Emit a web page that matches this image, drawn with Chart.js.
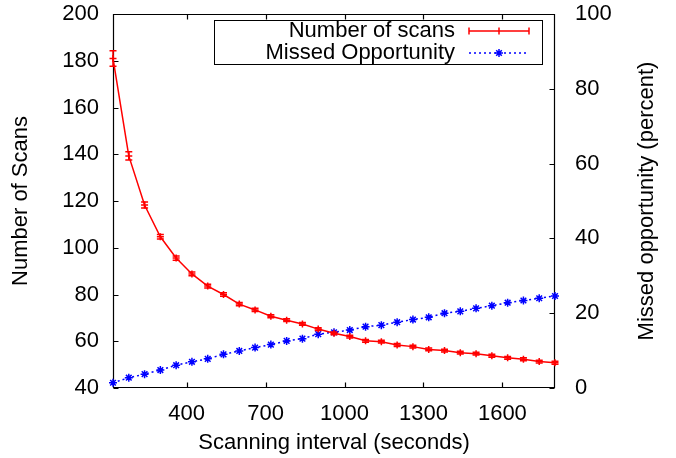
<!DOCTYPE html>
<html>
<head>
<meta charset="utf-8">
<script src="https://cdn.jsdelivr.net/npm/chart.js@4.4.1/dist/chart.umd.min.js"></script>
<style>
html,body{margin:0;padding:0;background:#fff;}
#wrap{width:676px;height:458px;}
</style>
</head>
<body>
<div id="wrap"><canvas id="c" width="676" height="458"></canvas></div>
<script>
// ---- data ----
const scanIntervals = [120,180,240,300,360,420,480,540,600,660,720,780,840,900,960,1020,1080,1140,1200,1260,1320,1380,1440,1500,1560,1620,1680,1740,1800];
const numberOfScans = [181,139.3,118.3,104.7,95.6,88.8,83.6,80.0,75.9,73.4,70.7,69.0,67.4,65.2,63.4,62.0,60.2,59.8,58.4,57.7,56.5,56.0,55.1,54.7,53.8,52.9,52.3,51.3,50.8];
const scanErrors = [3.3,1.8,1.3,1.0,0.9,0.8,0.8,0.7,0.7,0.7,0.6,0.6,0.6,0.6,0.6,0.6,0.6,0.6,0.6,0.6,0.6,0.6,0.6,0.6,0.6,0.6,0.6,0.6,0.6];
const missedOpportunity = [1.4,2.75,3.7,4.8,6.1,7.0,7.8,9.0,9.9,10.8,11.6,12.6,13.2,14.4,14.9,15.5,16.4,16.8,17.6,18.3,18.9,20.0,20.5,21.3,22.0,22.8,23.4,24.0,24.6];
const xTickValues = [400,700,1000,1300,1600];
const seriesLabels = ['Number of scans','Missed Opportunity'];
const xTitle = 'Scanning interval (seconds)';
const yTitle = 'Number of Scans';
const y2Title = 'Missed opportunity (percent)';

const FONT = '"Liberation Sans", Arial, Helvetica, sans-serif';
const FSIZE = 22;
const RED = '#ff0000', BLUE = '#0000ff';

const framePlugin = {
  id: 'frame',
  beforeDatasetsDraw(chart) {
    const {ctx, chartArea: a, scales} = chart;
    ctx.save();
    ctx.strokeStyle = '#000';
    ctx.lineWidth = 1.2;
    ctx.beginPath();
    const L = Math.round(a.left)+0.5, R = Math.round(a.right)-0.5, T = Math.round(a.top)+0.5, B = Math.round(a.bottom)-0.5;
    ctx.rect(L, T, R-L, B-T);
    const tl = 5;
    xTickValues.forEach(v => {
      const px = Math.round(scales.x.getPixelForValue(v)) + 0.5;
      ctx.moveTo(px, B); ctx.lineTo(px, B - tl);
      ctx.moveTo(px, T); ctx.lineTo(px, T + tl);
    });
    scales.y.ticks.forEach(t => {
      const py = Math.round(scales.y.getPixelForValue(t.value)) + 0.5;
      ctx.moveTo(L, py); ctx.lineTo(L + tl, py);
    });
    scales.y2.ticks.forEach(t => {
      const py = Math.round(scales.y2.getPixelForValue(t.value)) + 0.5;
      ctx.moveTo(R, py); ctx.lineTo(R - tl, py);
    });
    ctx.stroke();
    ctx.restore();
  },
  afterDatasetsDraw(chart) {
    const {ctx, scales} = chart;
    const meta = chart.getDatasetMeta(0);
    ctx.save();
    ctx.strokeStyle = RED;
    ctx.lineWidth = 1.5;
    ctx.beginPath();
    meta.data.forEach((pt, i) => {
      const x = pt.x;
      const yHi = scales.y.getPixelForValue(numberOfScans[i] + scanErrors[i]);
      const yLo = scales.y.getPixelForValue(numberOfScans[i] - scanErrors[i]);
      ctx.moveTo(x, yHi); ctx.lineTo(x, yLo);
      ctx.moveTo(x - 3.5, yHi); ctx.lineTo(x + 3.5, yHi);
      ctx.moveTo(x - 3.5, yLo); ctx.lineTo(x + 3.5, yLo);
    });
    ctx.stroke();
    ctx.restore();
  },
  afterDraw(chart) {
    const {ctx, chartArea: a} = chart;
    ctx.save();
    ctx.fillStyle = '#000';
    ctx.font = FSIZE + 'px ' + FONT;
    ctx.textAlign = 'center';
    ctx.textBaseline = 'middle';
    ctx.translate(647, (a.top + a.bottom) / 2);
    ctx.rotate(-Math.PI / 2);
    ctx.fillText(y2Title, 0, 0);
    ctx.restore();

    ctx.save();
    ctx.strokeStyle = '#000';
    ctx.lineWidth = 1;
    ctx.strokeRect(214.5, 20.5, 328, 44);
    ctx.font = FSIZE + 'px ' + FONT;
    ctx.fillStyle = '#000';
    ctx.textAlign = 'right';
    ctx.textBaseline = 'middle';
    const rows = [31, 53];
    ctx.fillText(seriesLabels[0], 455, rows[0]);
    ctx.fillText(seriesLabels[1], 455, rows[1]);
    ctx.strokeStyle = RED; ctx.lineWidth = 1.5;
    ctx.beginPath();
    ctx.moveTo(469, rows[0]); ctx.lineTo(529, rows[0]);
    ctx.moveTo(469, rows[0]-3.5); ctx.lineTo(469, rows[0]+3.5);
    ctx.moveTo(529, rows[0]-3.5); ctx.lineTo(529, rows[0]+3.5);
    ctx.moveTo(499, rows[0]-3.5); ctx.lineTo(499, rows[0]+3.5);
    ctx.stroke();
    ctx.strokeStyle = BLUE; ctx.lineWidth = 1.5;
    ctx.setLineDash([2,3]);
    ctx.beginPath();
    ctx.moveTo(469, rows[1]); ctx.lineTo(529, rows[1]);
    ctx.stroke();
    ctx.setLineDash([]);
    ctx.beginPath();
    const r = 4, cx = 499, cy = rows[1];
    ctx.moveTo(cx-r, cy); ctx.lineTo(cx+r, cy);
    ctx.moveTo(cx, cy-r); ctx.lineTo(cx, cy+r);
    ctx.moveTo(cx-r*0.7, cy-r*0.7); ctx.lineTo(cx+r*0.7, cy+r*0.7);
    ctx.moveTo(cx-r*0.7, cy+r*0.7); ctx.lineTo(cx+r*0.7, cy-r*0.7);
    ctx.stroke();
    ctx.restore();
  }
};

Chart.defaults.font.family = FONT;
Chart.defaults.font.size = FSIZE;
Chart.defaults.color = '#000';

function noPad(scale) {
  scale.paddingTop = 0; scale.paddingBottom = 0;
  scale.paddingLeft = 0; scale.paddingRight = 0;
}

new Chart(document.getElementById('c'), {
  type: 'line',
  data: {
    datasets: [
      {
        label: seriesLabels[0],
        data: scanIntervals.map((x, i) => ({x, y: numberOfScans[i]})),
        yAxisID: 'y',
        borderColor: RED,
        backgroundColor: RED,
        borderWidth: 1.5,
        pointStyle: 'cross',
        pointRadius: 3.5,
        pointBorderWidth: 1.5,
        pointBorderColor: RED,
        tension: 0,
        clip: false
      },
      {
        label: seriesLabels[1],
        data: scanIntervals.map((x, i) => ({x, y: missedOpportunity[i]})),
        yAxisID: 'y2',
        borderColor: BLUE,
        backgroundColor: BLUE,
        borderWidth: 1.5,
        borderDash: [2, 3],
        pointStyle: 'star',
        pointRadius: 4,
        pointBorderWidth: 1.5,
        pointBorderColor: BLUE,
        tension: 0,
        clip: false
      }
    ]
  },
  options: {
    responsive: false,
    animation: false,
    layout: { padding: { left: 0, right: 0, top: 14, bottom: 0 } },
    plugins: { legend: { display: false }, tooltip: { enabled: false } },
    scales: {
      x: {
        type: 'linear',
        min: 120, max: 1800,
        grid: { display: false, drawTicks: false },
        border: { display: false },
        afterBuildTicks(scale) { scale.ticks = xTickValues.map(v => ({ value: v })); },
        afterFit(scale) { scale.height = 70; noPad(scale); },
        ticks: { padding: 13, maxRotation: 0, autoSkip: false, font: { size: FSIZE }, callback: v => String(v) },
        title: { display: true, text: xTitle, font: { size: FSIZE }, padding: { top: 0, bottom: 2 } }
      },
      y: {
        position: 'left',
        min: 40, max: 200,
        grid: { display: false, drawTicks: false },
        border: { display: false },
        afterFit(scale) { scale.width = 113; noPad(scale); },
        ticks: { stepSize: 20, padding: 14, font: { size: FSIZE }, callback: v => String(v) },
        title: { display: true, text: yTitle, font: { size: FSIZE }, padding: { top: 8, bottom: 0 } }
      },
      y2: {
        position: 'right',
        min: 0, max: 100,
        grid: { display: false, drawTicks: false },
        border: { display: false },
        afterFit(scale) { scale.width = 121; noPad(scale); },
        ticks: { stepSize: 20, padding: 20, font: { size: FSIZE }, callback: v => String(v) },
        title: { display: false }
      }
    }
  },
  plugins: [framePlugin]
});
</script>
</body>
</html>
